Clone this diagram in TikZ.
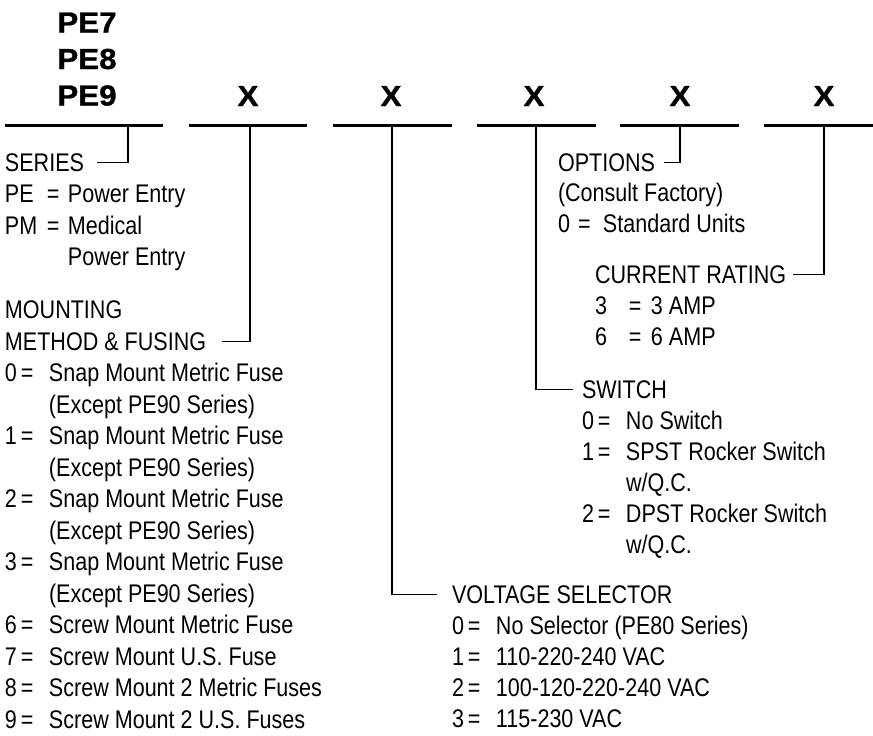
\documentclass[tikz,border=0pt]{standalone}
\usepackage{fontspec}
\setmainfont{Liberation Sans}[FakeStretch=0.845]
\newfontfamily\hdfont{Liberation Sans}[FakeStretch=1.08,FakeBold=1]
\begin{document}
\begin{tikzpicture}[x=1pt,y=-1pt,
  bar/.style={line width=3pt},
  conn/.style={line width=1.4pt},
  lbl/.style={inner sep=0pt, outer sep=0pt, anchor=base west, font=\fontsize{25.5}{31.5}\selectfont},
  lblr/.style={lbl, font=\fontsize{25.5}{31}\selectfont},
  hd/.style={inner sep=0pt, outer sep=0pt, anchor=base, font=\hdfont\bfseries\fontsize{29}{36.5}\selectfont}]
\useasboundingbox (0,0) rectangle (873,736);

% code heading
\node[hd] (pe7) at (87,32.5) {PE7};
\node[hd] (pe8) at (87,69) {PE8};
\node[hd] (pe9) at (87,105.5) {PE9};
\node[hd] (x2) at (248,106) {X};
\node[hd] (x3) at (391,106) {X};
\node[hd] (x4) at (534,106) {X};
\node[hd] (x5) at (680,106) {X};
\node[hd] (x6) at (824,106) {X};

% bars
\coordinate (b1l) at (5,125);   \coordinate (b1r) at (163,125);
\coordinate (b2l) at (189,125); \coordinate (b2r) at (307,125);
\coordinate (b3l) at (333,125); \coordinate (b3r) at (452,125);
\coordinate (b4l) at (477,125); \coordinate (b4r) at (596,125);
\coordinate (b5l) at (620,125); \coordinate (b5r) at (739,125);
\coordinate (b6l) at (764,125); \coordinate (b6r) at (873,125);
\draw[bar] (b1l) -- (b1r);
\draw[bar] (b2l) -- (b2r);
\draw[bar] (b3l) -- (b3r);
\draw[bar] (b4l) -- (b4r);
\draw[bar] (b5l) -- (b5r);
\draw[bar] (b6l) -- (b6r);

\coordinate (t1) at (128,125);
\coordinate (t2) at (250,125);
\coordinate (t3) at (392,125);
\coordinate (t4) at (536,125);
\coordinate (t5) at (680,125);
\coordinate (t6) at (824,125);

% left column
\node[lbl] (series) at (5,171) {SERIES};
\node[lbl] (serlist) at (5,202.5) {\begin{tabular}[t]{@{}p{42pt}@{}p{21pt}@{}l@{}}
PE & = & Power Entry\\
PM & = & Medical\\
 & & Power Entry
\end{tabular}};
\node[lbl] (mount) at (5,318.5) {MOUNTING};
\node[lbl] (method) at (5,350) {METHOD \& FUSING};
\node[lbl] (mlist) at (5,381.5) {\begin{tabular}[t]{@{}p{16pt}@{}p{28pt}@{}l@{}}
0 & = & Snap Mount Metric Fuse\\
 & & (Except PE90 Series)\\
1 & = & Snap Mount Metric Fuse\\
 & & (Except PE90 Series)\\
2 & = & Snap Mount Metric Fuse\\
 & & (Except PE90 Series)\\
3 & = & Snap Mount Metric Fuse\\
 & & (Except PE90 Series)\\
6 & = & Screw Mount Metric Fuse\\
7 & = & Screw Mount U.S. Fuse\\
8 & = & Screw Mount 2 Metric Fuses\\
9 & = & Screw Mount 2 U.S. Fuses
\end{tabular}};

% right side
\node[lblr] (opt) at (558,171) {OPTIONS};
\node[lblr] (optlist) at (558,201) {\begin{tabular}[t]{@{}p{20pt}@{}p{25pt}@{}l@{}}
\multicolumn{3}{@{}l@{}}{(Consult Factory)}\\
0 & = & Standard Units
\end{tabular}};
\node[lblr] (cur) at (595,283) {CURRENT RATING};
\node[lblr] (curlist) at (595,314.5) {\begin{tabular}[t]{@{}p{34pt}@{}p{22pt}@{}l@{}}
3 & = & 3 AMP\\
6 & = & 6 AMP
\end{tabular}};
\node[lblr] (sw) at (582,398.5) {SWITCH};
\node[lblr] (swlist) at (582,429.5) {\begin{tabular}[t]{@{}p{16pt}@{}p{28pt}@{}l@{}}
0 & = & No Switch\\
1 & = & SPST Rocker Switch\\
 & & w/Q.C.\\
2 & = & DPST Rocker Switch\\
 & & w/Q.C.
\end{tabular}};
\node[lblr] (volt) at (452,603) {VOLTAGE SELECTOR};
\node[lblr] (voltlist) at (452,634) {\begin{tabular}[t]{@{}p{16pt}@{}p{28pt}@{}l@{}}
0 & = & No Selector (PE80 Series)\\
1 & = & 110-220-240 VAC\\
2 & = & 100-120-220-240 VAC\\
3 & = & 115-230 VAC
\end{tabular}};

% connectors
\draw[conn] (t1) |- ([xshift=13pt]series.east);
\draw[conn] (t2) |- ([xshift=16pt]method.east);
\draw[conn] (t3) |- ([xshift=-15pt]volt.west);
\draw[conn] (t4) |- ([xshift=-9pt]sw.west);
\draw[conn] (t5) |- ([xshift=9pt]opt.east);
\draw[conn] (t6) |- ([xshift=7pt]cur.east);
\end{tikzpicture}
\end{document}
